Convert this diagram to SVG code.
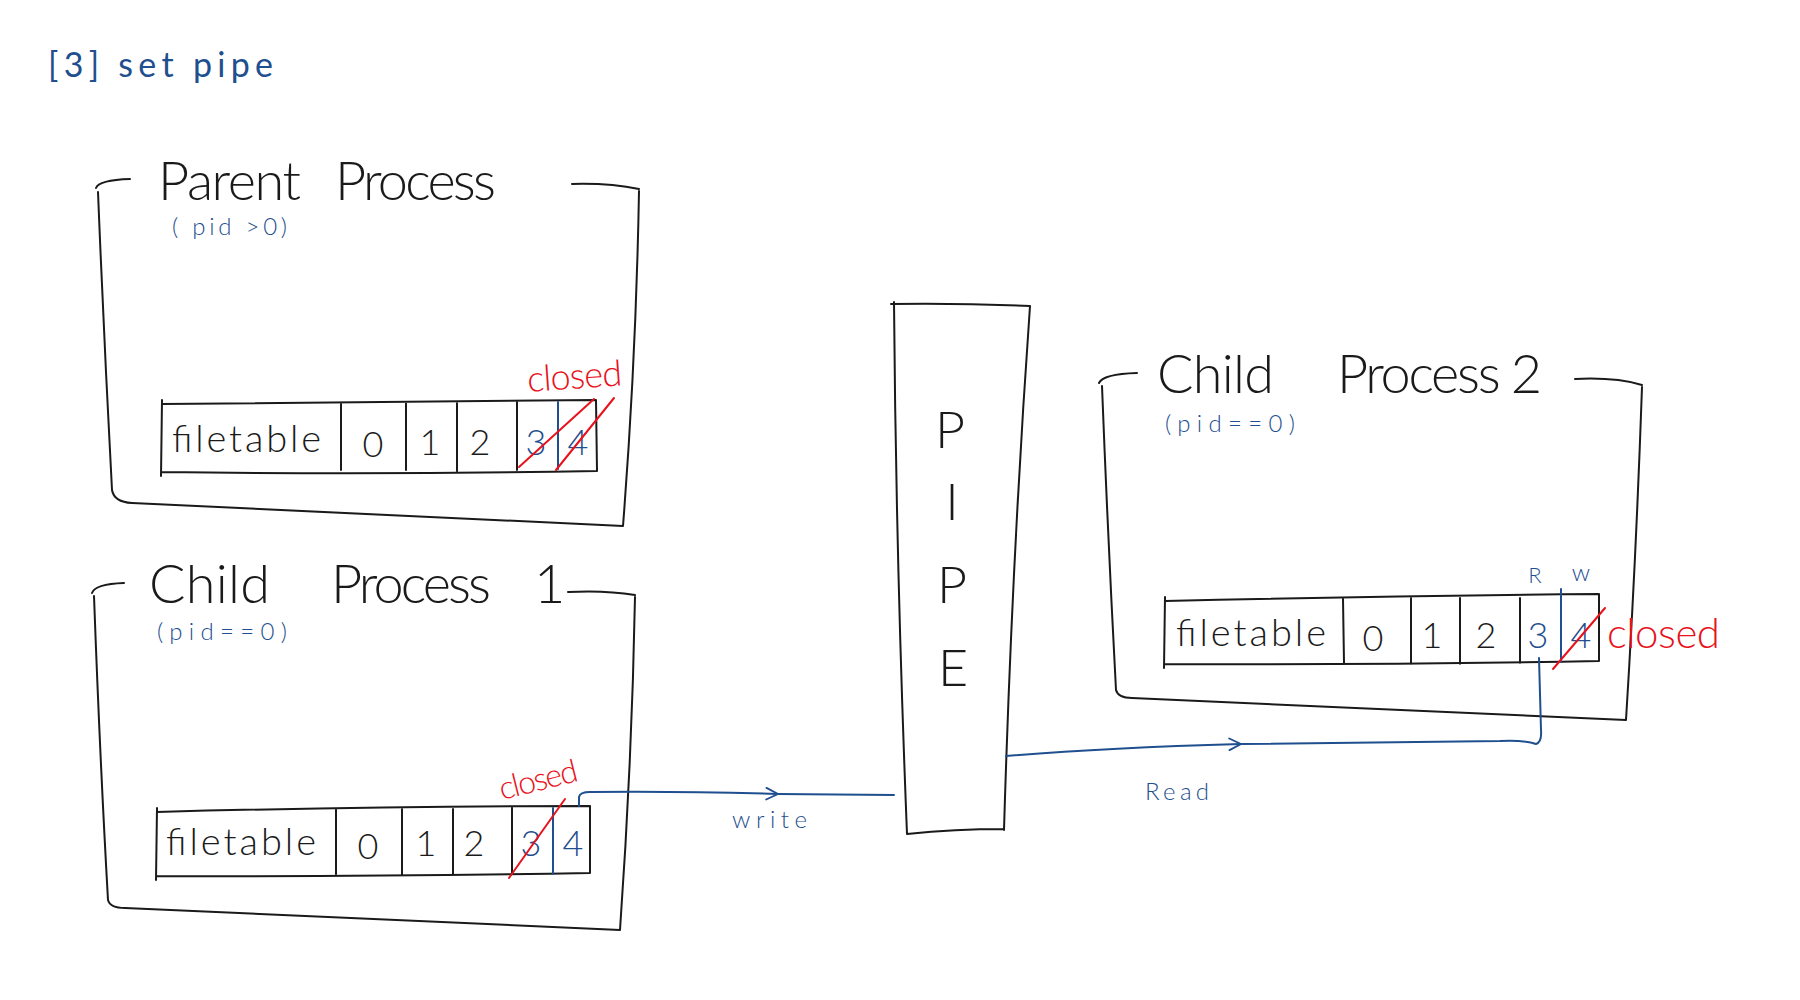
<svg xmlns="http://www.w3.org/2000/svg" width="1800" height="1000" viewBox="0 0 1800 1000">
<style>
.bk{fill:none;stroke:#1a1a1a;stroke-width:2;stroke-linecap:round;stroke-linejoin:round}
.bl{fill:none;stroke:#1f4f8e;stroke-width:2;stroke-linecap:round;stroke-linejoin:round}
.rd{fill:none;stroke:#e8121c;stroke-width:2;stroke-linecap:round}
text{font-family:Lato,"Open Sans","DejaVu Sans",sans-serif;font-weight:300}
.t{fill:#1a1a1a;font-size:54px}
.ft{fill:#1a1a1a;font-size:38px}
.nb{fill:#1a1a1a;font-size:36px;text-anchor:middle}
.nbb{fill:#1f4f8e;font-size:36px;text-anchor:middle}
.bt{fill:#1f4f8e;font-size:24px}
.rt{fill:#e8121c;font-size:36px}
</style>
<defs>
<marker id="chev" viewBox="0 0 12 12" refX="11" refY="6" markerWidth="14" markerHeight="14" markerUnits="userSpaceOnUse" orient="auto">
<path d="M1,1 L11,6 L1,11" fill="none" stroke="#1f4f8e" stroke-width="1.6" stroke-linecap="round"/>
</marker>
</defs>
<rect width="1800" height="1000" fill="#ffffff"/>

<g id="title">
<text x="48" y="77" class="bt" style="font-size:34px;font-weight:400" textLength="225" lengthAdjust="spacing">[3] set pipe</text>
</g>

<g id="parent">
<path class="bk" d="M96,188 Q99,180 130,179 M98,192 Q104,340 112,490 Q114,502 132,503 L623,526 M639,191 Q636,360 623,526 M572,184 Q610,183 639,189"/>
<text class="t"><tspan x="158" y="200" textLength="143" lengthAdjust="spacing">Parent</tspan><tspan x="335" y="200" textLength="161" lengthAdjust="spacing">Process</tspan></text>
<text x="172" y="235" class="bt" textLength="115" lengthAdjust="spacing">( pid &gt;0)</text>
<path class="bk" d="M162,404 Q380,402 596,400 L597,471 Q380,475 162,472 M162,400 L161,476 M341,404 L341,470 M406,403 L406,470 M457,403 L457,471 M517,402 L517,470"/>
<path class="bl" d="M558,402 L558,469"/>
<text x="172" y="452" class="ft" textLength="149" lengthAdjust="spacing">filetable</text>
<text x="373" y="457" class="nb">0</text>
<text x="430" y="455" class="nb">1</text>
<text x="480" y="455" class="nb">2</text>
<text x="536" y="455" class="nbb">3</text>
<text x="578" y="455" class="nbb">4</text>
<path class="rd" d="M519,467 L594,399 M556,470 L614,398"/>
<text x="528" y="392" class="rt" transform="rotate(-4 528 392)" textLength="95" lengthAdjust="spacing">closed</text>
</g>

<g id="child1">
<path class="bk" d="M92,593 Q95,584 124,583 M94,596 Q100,760 108,900 Q110,908 125,908 L620,930 M635,597 Q632,760 620,930 M568,592 Q605,590 635,595"/>
<text class="t"><tspan x="149" y="603" textLength="121" lengthAdjust="spacing">Child</tspan><tspan x="331" y="603" textLength="160" lengthAdjust="spacing">Process</tspan><tspan x="534" y="603">1</tspan></text>
<text x="157" y="640" class="bt" textLength="130" lengthAdjust="spacing">(pid==0)</text>
<path class="bk" d="M157,812 Q380,806 590,806 L590,873 Q380,877 157,876 M157,808 L156,880 M336,810 L336,874 M402,809 L402,875 M453,809 L453,875 M512,808 L512,874"/>
<path class="bl" d="M553,808 L553,874"/>
<text x="166" y="855" class="ft" textLength="150" lengthAdjust="spacing">filetable</text>
<text x="368" y="859" class="nb">0</text>
<text x="426" y="856" class="nb">1</text>
<text x="474" y="856" class="nb">2</text>
<text x="531" y="856" class="nbb">3</text>
<text x="573" y="856" class="nbb">4</text>
<path class="rd" d="M509,878 L565,799"/>
<text x="502" y="800" class="rt" style="font-size:32px" transform="rotate(-14 502 800)" textLength="80" lengthAdjust="spacing">closed</text>
</g>

<g id="pipe">
<path class="bk" d="M891,304 Q960,303 1030,306 M894,302 Q896,560 907,834 M1030,306 Q1012,560 1004,830 M907,834 Q955,829 1004,829"/>
<text x="950" y="448" class="nb" style="font-size:52px">P</text>
<text x="952" y="520" class="nb" style="font-size:52px">I</text>
<text x="952" y="603" class="nb" style="font-size:52px">P</text>
<text x="953" y="686" class="nb" style="font-size:52px">E</text>
</g>

<g id="child2">
<path class="bk" d="M1099,383 Q1103,374 1137,373 M1102,386 Q1108,540 1116,690 Q1118,698 1132,698 L1626,720 M1642,387 Q1636,560 1626,720 M1575,379 Q1615,377 1642,385"/>
<text class="t"><tspan x="1157" y="393" textLength="117" lengthAdjust="spacing">Child</tspan><tspan x="1337" y="393" textLength="205" lengthAdjust="spacing">Process 2</tspan></text>
<text x="1165" y="432" class="bt" textLength="130" lengthAdjust="spacing">(pid==0)</text>
<path class="bk" d="M1165,601 Q1380,596 1599,594 L1599,661 Q1380,665 1165,664 M1165,597 L1164,668 M1343,599 L1344,663 M1411,598 L1411,664 M1460,598 L1460,664 M1520,598 L1520,663"/>
<path class="bl" d="M1561,589 L1561,662"/>
<text x="1176" y="646" class="ft" textLength="150" lengthAdjust="spacing">filetable</text>
<text x="1373" y="651" class="nb">0</text>
<text x="1432" y="648" class="nb">1</text>
<text x="1486" y="648" class="nb">2</text>
<text x="1538" y="648" class="nbb">3</text>
<text x="1581" y="648" class="nbb">4</text>
<text x="1535" y="583" class="bt" style="font-size:22px;text-anchor:middle">R</text>
<text x="1581" y="581" class="bt" style="font-size:24px;text-anchor:middle">w</text>
<path class="rd" d="M1553,669 L1605,608"/>
<text x="1607" y="648" class="rt" style="font-size:42px" textLength="113" lengthAdjust="spacing">closed</text>
</g>

<g id="connectors">
<path class="bl" d="M579,806 L579,797 Q580,792 590,792 Q680,791 778,794" marker-end="url(#chev)"/>
<path class="bl" d="M778,794 L894,795"/>
<text x="732" y="828" class="bt" textLength="75" lengthAdjust="spacing">write</text>
<path class="bl" d="M1006,756 Q1100,748 1241,744" marker-end="url(#chev)"/>
<path class="bl" d="M1241,744 L1500,741 Q1525,740 1536,744 Q1542,742 1541,730 L1539,658"/>
<text x="1145" y="800" class="bt" textLength="64" lengthAdjust="spacing">Read</text>
</g>
</svg>
